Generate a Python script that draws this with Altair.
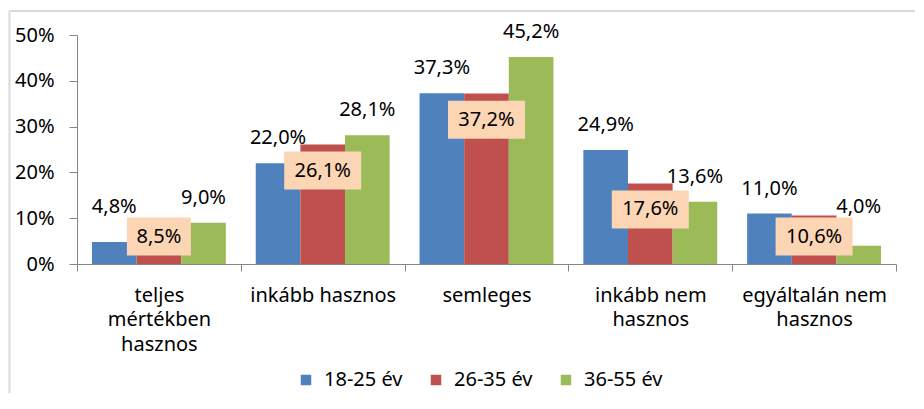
import altair as alt
import pandas as pd

categories = ["teljes mértékben hasznos", "inkább hasznos", "semleges",
              "inkább nem hasznos", "egyáltalán nem hasznos"]
series = ["18-25 év", "26-35 év", "36-55 év"]
v_18_25 = [4.8, 22.0, 37.3, 24.9, 11.0]
v_26_35 = [8.5, 26.1, 37.2, 17.6, 10.6]
v_36_55 = [9.0, 28.1, 45.2, 13.6, 4.0]
y_ticks = [0, 0.1, 0.2, 0.3, 0.4, 0.5]
colors = ["#4F81BD", "#C0504D", "#9BBB59"]

wrapped = {
    "teljes mértékben hasznos": ["teljes", "mértékben", "hasznos"],
    "inkább nem hasznos": ["inkább nem", "hasznos"],
    "egyáltalán nem hasznos": ["egyáltalán nem", "hasznos"],
}

rows = []
for s, vals in zip(series, [v_18_25, v_26_35, v_36_55]):
    for c, v in zip(categories, vals):
        rows.append({"cat": c, "series": s, "v": v / 100.0})
df = pd.DataFrame(rows)

label_expr = ""
for k, parts in wrapped.items():
    arr = "[" + ",".join("'" + p + "'" for p in parts) + "]"
    label_expr += f"datum.label == '{k}' ? {arr} : "
label_expr += "datum.label"

FONT = "Noto Sans"
AXIS_GRAY = "#868686"

base = alt.Chart(df).transform_calculate(
    lab="replace(format(datum.v, '.1%'), '.', ',')"
).encode(
    x=alt.X("cat:N", sort=categories, title=None,
            scale=alt.Scale(paddingInner=0, paddingOuter=0),
            axis=alt.Axis(labelExpr=label_expr, labelAngle=0, tickBand="extent",
                          tickSize=7, labelPadding=14, labelLineHeight=24.5,
                          labelFontSize=20, labelFont=FONT, labelColor="black",
                          domainColor=AXIS_GRAY, tickColor=AXIS_GRAY, labelLimit=300)),
    xOffset=alt.XOffset("series:N", sort=series,
                        scale=alt.Scale(paddingOuter=0.335, paddingInner=0)),
)

yaxis = alt.Axis(values=y_ticks, format=".0%", grid=False, tickSize=8,
                 labelPadding=15, labelFontSize=20, labelFont=FONT,
                 labelColor="black", domainColor=AXIS_GRAY, tickColor=AXIS_GRAY)

bars = base.mark_bar().encode(
    y=alt.Y("v:Q", scale=alt.Scale(domain=[0, 0.5]), axis=yaxis, title=None),
    color=alt.Color("series:N", scale=alt.Scale(domain=series, range=colors),
                    legend=alt.Legend(orient="none", legendX=219, legendY=335,
                                      direction="horizontal", title=None,
                                      symbolType="square", symbolSize=110,
                                      symbolStrokeWidth=0, labelFontSize=20,
                                      labelFont=FONT, labelColor="black",
                                      labelOffset=8, columnPadding=23, padding=0)),
)

outer_labels = base.transform_filter(
    f"datum.series != '{series[1]}'"
).transform_calculate(
    ytop="max(datum.v, 0.07)"
).mark_text(dy=-25, fontSize=20, font=FONT, baseline="middle", color="black").encode(
    y=alt.Y("ytop:Q", title=None),
    text="lab:N",
)

red = base.transform_filter(f"datum.series == '{series[1]}'").transform_calculate(
    ylab="max(datum.v - 0.057, 0.06)"
)

box4 = red.transform_filter("length(datum.lab) == 4").mark_point(
    shape="M-1,-0.59375H1V0.59375H-1Z", size=4096, filled=True,
    color="#FCD5B5", opacity=1, strokeWidth=0
).encode(y=alt.Y("ylab:Q", title=None))

box5 = red.transform_filter("length(datum.lab) == 5").mark_point(
    shape="M-1,-0.4935H1V0.4935H-1Z", size=5929, filled=True,
    color="#FCD5B5", opacity=1, strokeWidth=0
).encode(y=alt.Y("ylab:Q", title=None))

red_text = red.mark_text(fontSize=20, font=FONT, baseline="middle", color="black").encode(
    y=alt.Y("ylab:Q", title=None),
    text="lab:N",
)

frame_df = pd.DataFrame({"a": [0]})
frame_top = alt.Chart(frame_df).mark_rule(color="#D9D9D9", strokeWidth=2).encode(
    x=alt.value(-67.5), x2=alt.value(838), y=alt.value(-24)
)
frame_left = alt.Chart(frame_df).mark_rule(color="#D9D9D9", strokeWidth=2).encode(
    x=alt.value(-67.5), y=alt.value(-24), y2=alt.value(358)
)

chart = alt.layer(frame_top, frame_left, bars, outer_labels, box4, box5, red_text).properties(
    width=819, height=229,
    padding={"left": 0, "top": 2, "right": 0, "bottom": 0},
).configure_view(strokeWidth=0).configure_text(font=FONT)

chart.save("out.html", embed_options={"renderer": "svg", "actions": False})
